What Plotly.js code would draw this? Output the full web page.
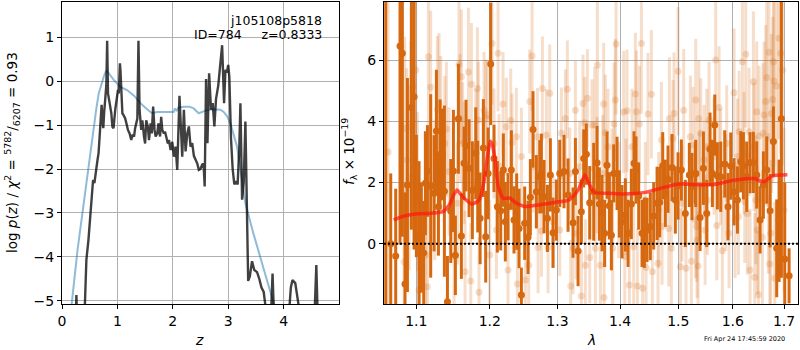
<!DOCTYPE html>
<html><head><meta charset="utf-8">
<script src="https://cdn.plot.ly/plotly-3.0.1.min.js"></script>
<style>body{margin:0;padding:0;background:#fff}#c{width:800px;height:350px}</style>
</head><body><div id="c"></div>
<script>
// ---- left panel: log p(z) ----
const zBlack = [0.18,0.25,0.26,0.27,0.40,0.417,0.44,0.477,0.519,0.549,0.561,0.585,0.609,0.64,0.66,0.68,0.70,0.715,0.73,0.745,0.76,0.78,0.80,0.815,0.83,0.86,0.89,0.91,0.93,0.96,0.99,1.01,1.025,1.045,1.055,1.07,1.09,1.11,1.14,1.17,1.19,1.22,1.25,1.27,1.30,1.32,1.34,1.36,1.38,1.40,1.43,1.45,1.48,1.50,1.52,1.55,1.57,1.60,1.62,1.645,1.67,1.69,1.72,1.74,1.77,1.79,1.81,1.84,1.86,1.88,1.91,1.93,1.96,1.99,2.02,2.05,2.08,2.12,2.15,2.17,2.20,2.23,2.26,2.29,2.32,2.35,2.38,2.41,2.44,2.47,2.50,2.53,2.555,2.575,2.60,2.625,2.655,2.69,2.72,2.75,2.78,2.82,2.855,2.89,2.925,2.95,2.975,3.0,3.02,3.05,3.08,3.11,3.14,3.17,3.20,3.22,3.25,3.28,3.31,3.335,3.36,3.39,3.43,3.47,3.52,3.56,3.60,3.64,3.68,3.72,3.77,3.80,3.83,4.08,4.13,4.16,4.21,4.27,4.33,4.55,4.59,4.62];
const logpBlack = [-5.8,-5.3,-4.87,-5.4,-5.6,-5.06,-4.07,-3.62,-2.86,-2.40,-2.25,-2.32,-2.02,-1.80,-1.64,-1.19,-0.62,-0.54,-0.89,-1.07,-0.73,-0.28,-0.09,0.92,-0.28,-0.50,-0.73,-1.04,-1.07,-0.66,-0.35,-0.20,-0.28,0.41,0.25,-0.35,-0.73,-0.77,-0.85,-1.00,-1.11,-1.19,-1.34,-1.22,-1.26,-1.07,-0.96,-0.85,0.92,-0.66,-1.11,-0.89,-1.26,-1.42,-0.89,-1.04,-1.34,-0.96,-1.19,-0.58,-1.11,-1.26,-1.19,-0.96,-1.26,-0.81,-1.11,-1.19,-1.15,-1.26,-1.42,-1.34,-1.57,-1.38,-1.72,-1.49,-2.02,-0.33,-1.3,-1.72,-0.65,-1.6,-1.2,-1.03,-1.49,-1.41,-1.7,-1.79,-1.87,-2.02,-2.0,-1.9,-1.88,-2.4,0.05,-1.41,0.18,-0.65,-0.5,-1.03,-0.4,-0.1,0.35,0.82,-0.5,0.26,0.2,0.37,0.1,-1.3,-2.0,-2.35,-2.3,-2.35,-1.5,-0.5,-2.7,-2.3,-0.92,-2.9,-4.55,-4.45,-4.1,-4.3,-4.35,-4.5,-4.7,-4.8,-5.2,-5.6,-5.4,-4.38,-5.5,-5.6,-4.7,-4.53,-4.6,-5.1,-5.8,-5.6,-4.19,-5.6];
const zBlue = [0.12,0.176,0.28,0.37,0.459,0.52,0.574,0.62,0.663,0.71,0.753,0.79,0.81,0.85,0.934,1.054,1.174,1.30,1.415,1.52,1.625,1.716,1.85,2.016,2.04,2.07,2.10,2.197,2.30,2.377,2.467,2.53,2.618,2.70,2.798,2.86,2.918,2.98,3.04,3.10,3.16,3.22,3.31,3.45,3.58,3.70,3.82,3.88];
const logpBlue = [-5.9,-5.06,-3.85,-2.97,-2.18,-1.6,-1.04,-0.62,-0.28,-0.05,0.10,0.22,0.24,0.17,0.03,-0.13,-0.20,-0.33,-0.50,-0.62,-0.73,-0.70,-0.70,-0.70,-0.62,-0.68,-0.60,-0.58,-0.58,-0.62,-0.73,-0.70,-0.66,-0.64,-0.64,-0.65,-0.70,-0.80,-0.96,-1.2,-1.49,-2.0,-2.78,-3.45,-4.0,-4.55,-5.06,-5.4];
const zTicks = [0,1,2,3,4];
const logpTicks = [-5,-4,-3,-2,-1,0,1];
const logpTickText = ['−5','−4','−3','−2','−1','0','1'];

// ---- right panel: spectrum ----
const darkLam = [1.0609,1.0672,1.0735,1.0790,1.0820,1.0854,1.0885,1.0936,1.0971,1.1001,1.1036,1.1066,1.1097,1.1119,1.1146,1.1189,1.1234,1.1265,1.1292,1.1314,1.1345,1.1372,1.1413,1.1458,1.1494,1.1521,1.1562,1.1603,1.1640,1.1667,1.1709,1.1755,1.1802,1.1830,1.1863,1.1909,1.1942,1.1976,
 1.2013,1.2060,1.2108,1.2156,1.2194,1.2223,1.2262,1.2310,1.2349,1.2388,1.2423,1.2457,1.2506,1.2556,1.2590,1.2630,1.2680,1.2731,1.2756,1.2796,1.2847,1.2892,1.2933,1.2984,1.3036,1.3102,1.3165,1.3243,1.3280,1.3322,1.3374,1.3411,1.3453,1.3507,
 1.3571,1.3625,1.3662,1.3705,1.3748,1.3786,1.3825,1.3858,1.3896,1.3951,1.3989,1.4034,1.4089,1.4134,1.4189,1.4234,1.4268,1.4313,1.4370,1.4410,1.4455,1.4512,1.4570,1.4628,1.4674,1.4726,1.4772,1.4819,1.4889,1.4948,1.4996,1.5055,1.5126,1.5198,1.5246,1.5307,
 1.5313,1.5392,1.5453,1.5514,1.5575,1.5618,1.5662,1.5711,1.5773,1.5848,1.5910,1.5961,1.6024,1.6088,1.6151,1.6202,1.6266,1.6331,1.6395,1.6460,1.6525,1.6590,1.6656,1.6722,1.6788,1.6854,1.6901,1.6948,1.7015,1.7103];
const darkFlux = [-2.3,0.0,-0.4,6.47,6.23,-1.32,1.92,4.46,4.81,1.56,0.3,0.2,-0.3,1.98,2.38,1.89,1.65,3.69,1.21,2.92,2.92,1.72,-1.9,1.07,2.38,-0.38,4.09,0.25,2.63,3.21,2.47,1.75,2.96,1.87,0.83,3.13,0.23,2.3,
 5.88,2.79,1.21,1.08,2.41,0.72,1.21,2.41,0.78,1.05,0.50,-1.68,0.67,0.21,1.52,3.74,1.70,2.19,2.30,1.54,0.83,2.25,0.36,1.10,2.30,2.36,1.59,0.69,2.36,-0.24,1.05,2.79,2.93,1.34,
 1.70,2.65,1.30,1.00,0.34,2.57,1.24,0.28,2.30,2.30,1.30,0.72,0.94,0.34,1.30,2.63,2.41,1.56,0.34,0.36,0.45,0.56,0.91,1.32,1.36,2.55,1.65,2.11,2.49,1.43,1.89,2.41,0.99,2.25,1.87,2.30,
 2.30,0.86,2.47,0.99,3.09,2.30,3.88,2.22,2.19,2.61,1.21,2.54,1.70,1.43,2.68,2.55,2.19,2.65,2.66,2.25,0.78,1.92,2.41,1.08,3.34,-0.15,0.75,4.09,-0.5,-1.05];
const darkErr = [10.5,2.3,2.2,6.5,6.0,3.0,3.5,4.0,5.0,2.0,2.4,1.8,1.7,1.7,1.5,3.0,1.9,2.0,1.6,1.8,1.5,2.8,1.5,1.7,2.0,1.3,1.8,1.4,1.2,1.5,1.6,1.6,1.5,1.5,1.5,1.6,1.5,1.5,
 2.0,1.1,1.5,1.3,1.2,1.3,1.1,1.3,1.1,1.25,1.3,0.9,1.2,1.2,1.25,1.25,1.2,1.2,1.3,1.2,1.1,1.2,1.15,1.0,1.1,1.2,1.2,1.15,1.1,1.15,1.05,0.95,1.0,1.2,
 1.6,1.2,1.2,1.25,1.1,1.1,1.1,1.15,0.95,1.2,1.1,1.2,1.2,1.1,1.15,1.05,1.1,1.1,1.1,1.15,1.05,1.1,1.1,1.2,1.15,1.1,1.1,1.1,1.1,1.1,1.1,1.0,1.1,1.05,1.1,1.0,
 1.1,1.1,1.2,1.1,1.2,1.1,1.0,1.1,1.15,1.1,1.1,1.1,1.1,1.1,1.0,1.1,1.15,1.0,1.0,1.1,1.1,1.1,1.1,1.2,1.15,1.6,2.0,5.2,2.5,0.9];
const lightLam = [1.0638,1.0799,1.0850,1.0876,1.0906,1.0842,1.0992,1.0954,1.0928,1.1014,1.1036,1.1124,1.1146,1.1159,1.1189,1.1243,1.1278,1.1300,1.1323,1.1377,1.1399,1.1435,1.1503,1.1549,1.1571,1.1585,1.1603,1.1621,1.1654,1.1640,1.1700,1.1732,1.1742,1.1802,1.1825,1.1839,1.1848,1.1919,1.1942,1.1966,
 1.1999,1.2032,1.2060,1.2094,1.2118,1.2132,1.2190,1.2238,1.2262,1.2301,1.2320,1.2383,1.2398,1.2457,1.2516,1.2581,1.2566,1.2616,1.2633,1.2695,1.2706,1.2756,1.2771,1.2831,1.2857,1.2882,1.2933,1.3036,1.3061,1.3123,1.3154,1.3191,1.3206,1.3243,1.3280,1.3295,1.3348,1.3374,1.3400,1.3427,1.3438,1.3470,1.3507,1.3544,
 1.3587,1.3598,1.3625,1.3630,1.3678,1.3716,1.3732,1.3738,1.3759,1.3802,1.3869,1.3879,1.3902,1.3923,1.3935,1.3978,1.4061,1.4100,1.4078,1.4117,1.4156,1.4201,1.4229,1.4257,1.4274,1.4291,1.4325,1.4359,1.4381,1.4427,1.4438,1.4472,1.4530,1.4547,1.4645,1.4656,1.4703,1.4714,1.4831,1.4843,1.4878,1.4907,1.4925,1.4996,1.5037,1.5067,1.5097,1.5138,1.5216,1.5234,1.5264,1.5307,1.5337,
 1.5313,1.5331,1.5356,1.5368,1.5380,1.5404,1.5465,1.5484,1.5514,1.5526,1.5557,1.5649,1.5680,1.5699,1.5742,1.5773,1.5804,1.5866,1.5885,1.5929,1.6024,1.6043,1.6088,1.6107,1.6120,1.6183,1.6215,1.6228,1.6247,1.6279,1.6311,1.6331,1.6395,1.6408,1.6421,1.6441,1.6460,1.6473,1.6493,1.6506,1.6571,1.6584,1.6604,1.6637,1.6656,1.6702,1.6689,1.6715,1.6735,1.6748,1.6788,1.6801,1.6775,1.6815,1.6854,1.6901,1.6934,1.6968,1.7001];
const lightFlux = [3.0,6.45,3.77,2.74,2.14,-0.59,5.68,5.16,3.83,1.70,-1.52,-0.37,-1.41,6.12,5.12,1.76,4.40,4.59,3.94,3.28,3.75,2.36,-0.42,1.32,5.87,4.10,5.46,3.28,-0.92,2.65,5.62,-1.22,5.22,3.17,5.08,4.05,-1.59,4.37,4.12,4.21,
 -0.37,6.55,3.28,0.45,6.23,2.54,4.57,3.83,-0.86,4.03,3.31,3.50,-1.32,2.85,-1.19,4.65,-0.70,6.14,2.52,3.50,-0.12,0.42,5.08,3.56,-0.12,4.92,0.72,0.45,3.61,4.10,5.05,2.30,-1.38,-0.15,4.37,0.34,2.52,-1.71,4.59,3.96,-0.70,4.76,-0.45,3.88,
 3.88,-0.15,2.25,5.85,-0.70,2.30,4.57,-1.76,3.63,3.17,1.87,-0.15,3.92,4.70,6.53,1.43,4.31,1.54,-0.42,4.35,-1.35,3.17,-0.10,4.90,4.32,-1.38,3.92,6.55,-1.46,1.43,-0.78,4.24,4.89,-0.92,-0.64,1.10,3.39,0.56,0.50,4.10,-0.15,3.45,4.26,5.64,-0.75,1.32,4.37,-0.80,3.50,-0.57,3.23,0.78,0.12,
 4.70,0.56,-0.73,4.10,1.87,3.61,2.74,0.45,3.17,1.43,4.05,2.85,6.01,0.60,4.46,2.52,-0.23,1.67,3.28,0.34,4.94,0.78,2.85,0.88,3.66,5.95,2.96,1.37,6.20,0.99,3.66,-0.86,5.30,3.17,-1.10,1.43,4.32,0.45,-1.67,3.52,0.21,3.61,4.21,4.65,5.44,6.26,1.32,-0.66,0.34,4.26,5.95,5.32,4.72,-1.13,5.16,6.72,6.23,5.68,1.10];
const lightErr = [6.0,3.0,3.0,3.0,3.0,2.5,3.0,3.0,2.8,2.6,2.5,2.4,2.3,2.6,2.5,2.3,2.4,2.3,2.2,2.2,2.2,2.1,2.0,2.0,2.4,2.1,2.2,2.0,2.0,2.0,2.1,1.9,2.0,1.9,2.0,1.9,1.8,1.9,1.9,1.8,
 1.8,2.0,1.8,1.6,1.9,1.7,1.7,1.6,1.6,1.7,1.6,1.6,1.5,1.6,1.5,1.7,1.5,1.8,1.5,1.6,1.5,1.5,1.7,1.5,1.5,1.6,1.5,1.5,1.5,1.6,1.6,1.5,1.5,1.5,1.6,1.5,1.5,1.5,1.6,1.5,1.5,1.6,1.5,1.5,
 1.9,1.9,1.9,2.2,1.9,1.9,2.0,1.9,1.9,1.9,1.9,1.9,2.0,2.0,2.3,1.9,2.0,1.9,1.9,2.0,1.9,1.9,1.9,2.0,2.0,1.9,1.9,2.3,1.9,1.9,1.9,2.0,2.1,1.9,1.9,1.9,1.9,1.9,1.9,2.0,1.9,1.9,2.0,2.1,1.9,1.9,2.0,1.9,2.0,1.9,1.9,1.9,1.9,
 2.0,1.8,1.8,1.9,1.8,1.8,1.8,1.8,1.9,1.8,1.9,1.9,2.2,1.8,2.0,1.9,1.8,1.9,1.9,1.8,2.1,1.9,1.9,1.9,2.0,2.3,2.0,2.0,2.4,2.0,2.1,2.0,2.3,2.1,2.1,2.1,2.3,2.1,2.1,2.3,2.2,2.3,2.4,2.5,2.7,2.9,2.3,2.3,2.4,2.6,2.9,2.8,2.7,2.5,2.9,3.3,3.3,3.1,2.7];
const modelLam = [1.0709,1.0845,1.1017,1.1200,1.1348,1.1438,1.1490,1.1542,1.1600,1.1642,1.1743,1.1850,1.1921,1.1970,1.2007,1.2040,1.2074,1.2121,1.2193,1.2290,1.2363,1.2510,1.2650,1.2810,1.3013,1.3168,1.3215,1.3325,1.3431,1.3500,1.3578,1.3800,1.4040,1.4429,1.4766,1.5008,1.5355,1.5650,1.6024,1.6408,1.6603,1.6767,1.7068];
const modelFlux = [0.78,0.91,0.98,1.00,1.05,1.27,1.55,1.76,1.60,1.49,1.30,1.43,2.08,2.9,3.35,3.2,2.74,1.87,1.49,1.49,1.36,1.22,1.25,1.30,1.37,1.42,1.49,1.76,2.25,1.95,1.68,1.65,1.63,1.68,1.85,1.95,1.93,1.94,2.08,2.13,2.03,2.22,2.26];
const lamTicks = [1.1,1.2,1.3,1.4,1.5,1.6,1.7];
const fluxTicks = [0,2,4,6];

const ORANGE = 'rgb(214,104,16)';
const ORANGE_L = 'rgba(214,104,16,0.22)';
const FONT = 'DejaVu Sans, sans-serif';

const traces = [
  {x: zBlue, y: logpBlue, xaxis:'x', yaxis:'y', mode:'lines', line:{color:'rgba(31,119,180,0.5)', width:2}, hoverinfo:'skip'},
  {x: zBlack, y: logpBlack, xaxis:'x', yaxis:'y', mode:'lines', line:{color:'rgba(0,0,0,0.75)', width:2.4}, hoverinfo:'skip'},
  {x: lightLam, y: lightFlux, xaxis:'x2', yaxis:'y2', mode:'markers', marker:{color:ORANGE_L, size:7, line:{width:0}},
   error_y:{type:'data', array:lightErr, visible:true, thickness:3, width:0, color:ORANGE_L}, hoverinfo:'skip'},
  {x: darkLam, y: darkFlux, xaxis:'x2', yaxis:'y2', mode:'markers', marker:{color:ORANGE, size:7, line:{width:0}},
   error_y:{type:'data', array:darkErr, visible:true, thickness:3, width:0, color:ORANGE}, hoverinfo:'skip'},
  {x: modelLam, y: modelFlux, xaxis:'x2', yaxis:'y2', mode:'lines', line:{color:'rgba(255,25,15,0.72)', width:3.5, shape:'spline', smoothing:0.6}, hoverinfo:'skip'}
];

const axBase = {showline:true, mirror:true, linecolor:'black', linewidth:1, ticks:'outside', ticklen:4, tickwidth:1, tickcolor:'black',
  showgrid:true, gridcolor:'#b0b0b0', gridwidth:1, zeroline:false, automargin:false, tickfont:{family:FONT, size:14, color:'black'}};

function P(px, py){ return {x: px/800, y: 1 - py/350}; }

const annotations = [
  Object.assign({text:'j105108p5818', xanchor:'right', yanchor:'middle', showarrow:false, xref:'paper', yref:'paper', font:{family:FONT, size:12.5, color:'black'}}, P(324, 20)),
  Object.assign({text:'ID=784&nbsp;&nbsp;&nbsp;&nbsp;&nbsp;z=0.8333', xanchor:'right', yanchor:'middle', showarrow:false, xref:'paper', yref:'paper', font:{family:FONT, size:12.5, color:'black'}}, P(324, 34)),
  Object.assign({text:'<i>z</i>', xanchor:'center', yanchor:'middle', showarrow:false, xref:'paper', yref:'paper', font:{family:FONT, size:14, color:'black'}}, P(199, 340)),
  Object.assign({text:'<i>λ</i>', xanchor:'center', yanchor:'middle', showarrow:false, xref:'paper', yref:'paper', font:{family:FONT, size:14, color:'black'}}, P(591, 340)),
  Object.assign({text:'log <i>p</i>(<i>z</i>) / <i>χ</i><sup>2</sup> = <sup>5782</sup>/<sub>6207</sub> = 0.93', textangle:-90, xanchor:'center', yanchor:'middle', showarrow:false, xref:'paper', yref:'paper', font:{family:FONT, size:13.5, color:'black'}}, P(12, 153)),
  Object.assign({text:'<i>f</i><sub>λ</sub> × 10<sup>−19</sup>', textangle:-90, xanchor:'center', yanchor:'middle', showarrow:false, xref:'paper', yref:'paper', font:{family:FONT, size:13.5, color:'black'}}, P(349, 152)),
  Object.assign({text:'Fri Apr 24 17:45:59 2020', xanchor:'center', yanchor:'middle', showarrow:false, xref:'paper', yref:'paper', font:{family:FONT, size:6.5, color:'black'}}, P(744, 339))
];

const layout = {
  width:800, height:350, margin:{l:0,r:0,t:0,b:0,pad:0}, paper_bgcolor:'white', plot_bgcolor:'white', showlegend:false,
  font:{family:FONT, color:'black'},
  xaxis: Object.assign({}, axBase, {domain:[0.0775,0.4238], range:[0,5.0], tickvals:zTicks, anchor:'y'}),
  yaxis: Object.assign({}, axBase, {domain:[0.1314,0.9943], range:[-5.076,1.805], tickvals:logpTicks, ticktext:logpTickText, anchor:'x'}),
  xaxis2: Object.assign({}, axBase, {domain:[0.48,0.9975], type:'log', range:[0.024785,0.237647], tickvals:lamTicks, ticktext:lamTicks.map(String), anchor:'y2'}),
  yaxis2: Object.assign({}, axBase, {domain:[0.1314,0.9943], range:[-1.972,7.907], tickvals:fluxTicks, anchor:'x2'}),
  shapes:[{type:'line', xref:'x2 domain', x0:0, x1:1, yref:'y2', y0:0, y1:0, line:{color:'black', width:2, dash:'2px,2px'}, layer:'above'}],
  annotations: annotations
};

Plotly.newPlot('c', traces, layout, {staticPlot:true, displayModeBar:false});
</script></body></html>
